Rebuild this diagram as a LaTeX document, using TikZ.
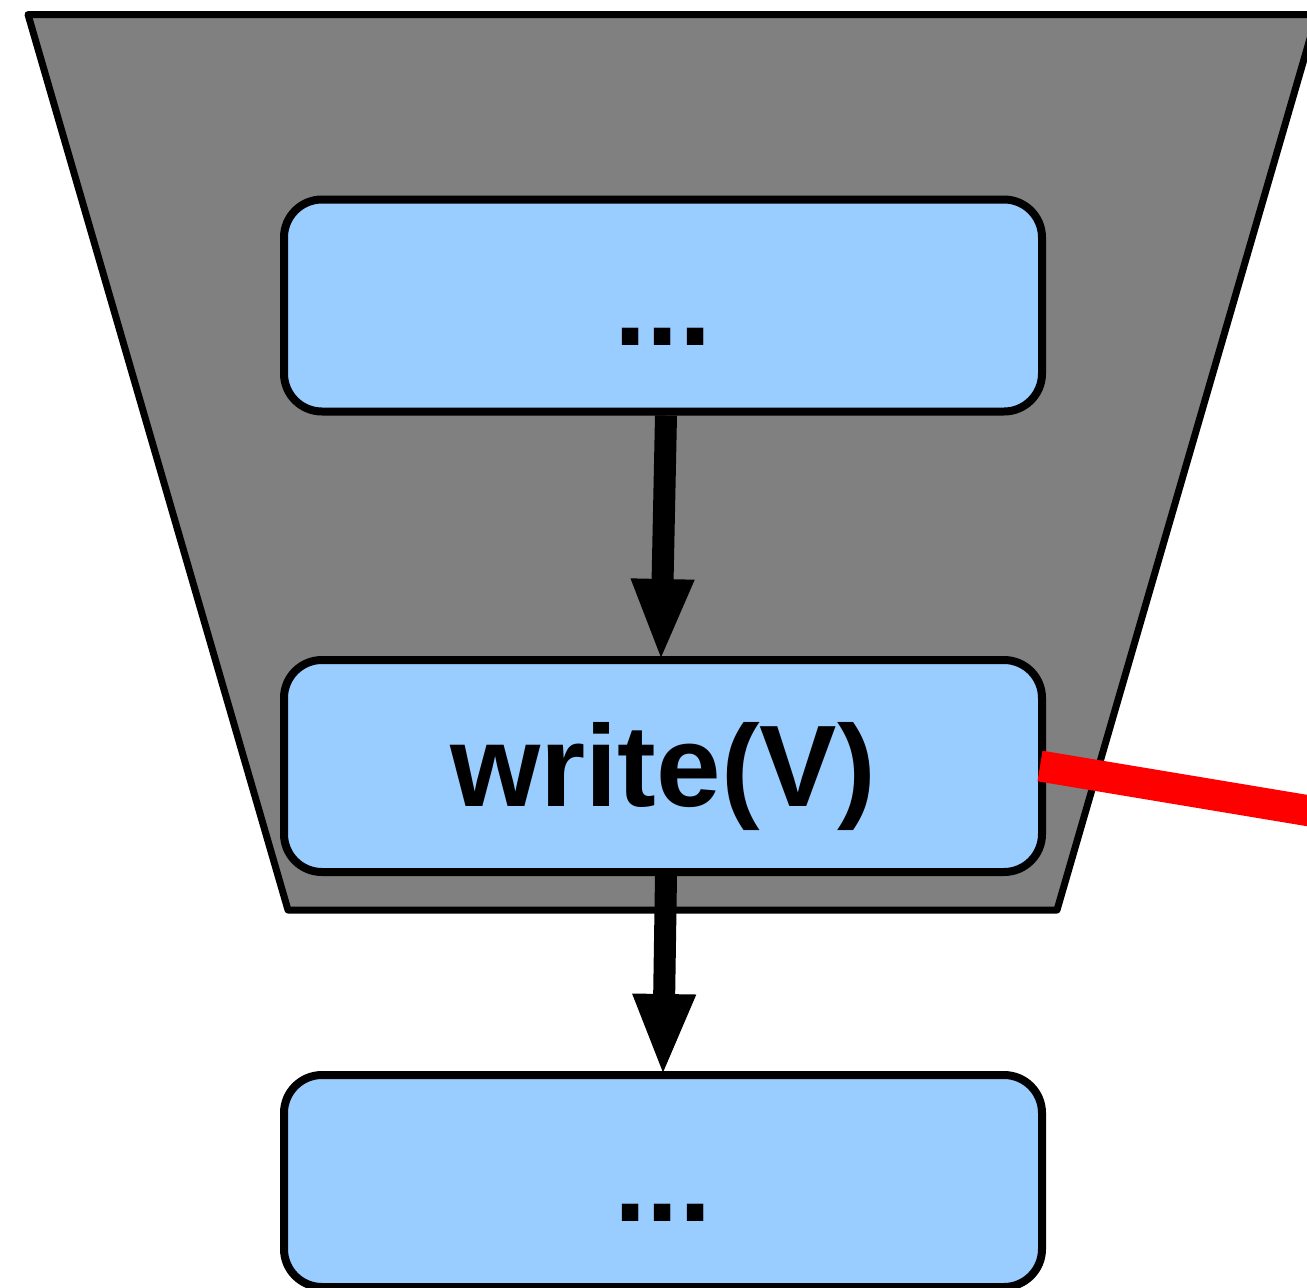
\documentclass[tikz,border=0pt]{standalone}
\usepackage{fontspec}
\setmainfont{Liberation Sans}
\usetikzlibrary{arrows.meta}
\definecolor{boxblue}{HTML}{99CCFF}
\definecolor{funnelgray}{HTML}{808080}
\begin{document}
\begin{tikzpicture}[x=1pt,y=-1pt,
  stepbox/.style={draw=black, line width=8pt, fill=boxblue, rounded corners=38pt,
    minimum width=758pt, minimum height=212pt, inner sep=0pt,
    text height=80pt, text depth=0pt, font=\fontsize{116}{130}\selectfont\bfseries},
  flow/.style={draw=black, line width=22pt, -{Triangle[length=83pt,width=57pt]}, shorten >=-6pt},
  link/.style={draw=red, line width=31pt},
  funnel/.style={draw=black, line width=7pt, fill=funnelgray, line join=round}]
\useasboundingbox (0,0) rectangle (1307,1288);
\clip (0,0) rectangle (1307,1288);
\draw[funnel] (28,14.5) -- (1317,14.5) -- (1057,910) -- (288,910) -- cycle;
\node[stepbox] (top) at (663,305.5) {...};
\node[stepbox] (mid) at (663,766) {write(V)};
\node[stepbox] (bot) at (663,1181) {...};
\coordinate (redend) at (1400,826);
\draw[flow] ([xshift=3pt]top.south) -- ([xshift=-2pt]mid.north);
\draw[flow] ([xshift=3pt]mid.south) -- (bot.north);
\draw[link] ([xshift=-6pt]mid.east) -- (redend);
\end{tikzpicture}
\end{document}
